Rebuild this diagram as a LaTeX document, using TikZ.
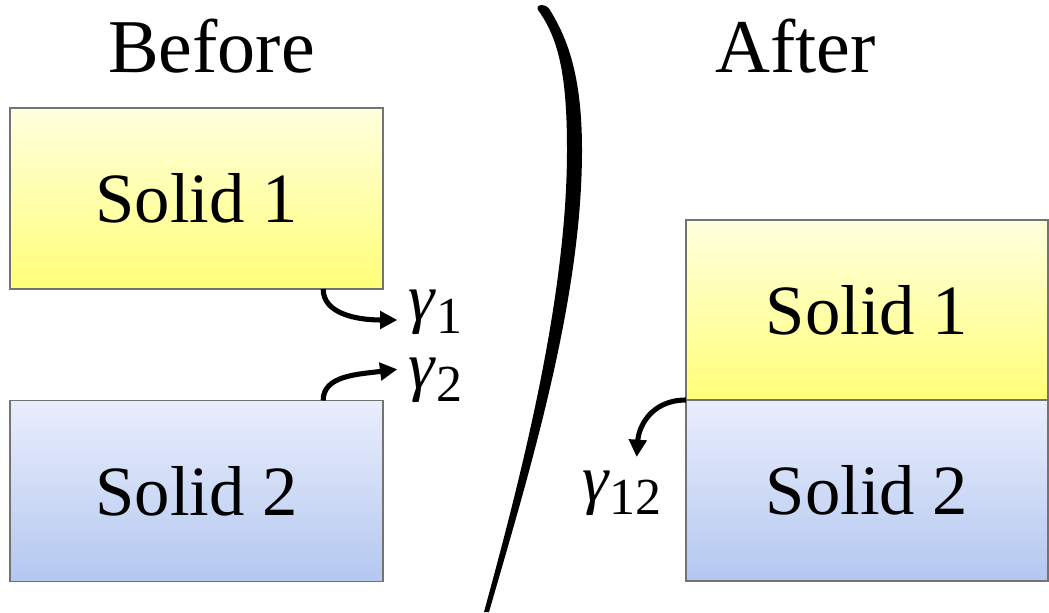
\documentclass[tikz,border=0pt]{standalone}
\usepackage{fontspec}
\setmainfont{Liberation Serif}
\usetikzlibrary{arrows.meta}
\definecolor{ylwtop}{RGB}{255,255,222}
\definecolor{ylwbot}{RGB}{255,255,120}
\definecolor{blutop}{RGB}{233,238,252}
\definecolor{blubot}{RGB}{180,199,240}
\newcommand{\gm}[1]{\textit{γ}\raisebox{-0.2em}{\fontsize{39}{42}\selectfont #1}}
\begin{document}
\begin{tikzpicture}[x=0.75pt,y=-0.75pt,
		solidbox/.style={draw=black!55,line width=0.9pt,inner sep=0pt,outer sep=0pt,font=\fontsize{53}{60}\selectfont},
		ylw/.style={top color=ylwtop,bottom color=ylwbot},
		blu/.style={top color=blutop,bottom color=blubot},
		gam/.style={inner sep=0pt,font=\fontsize{50}{56}\selectfont},
		gamarrow/.style={-{Triangle[length=13pt,width=13pt]},line width=3.8pt}]
		\useasboundingbox (0,0) rectangle (1049,613);
		% titles
		\node[font=\fontsize{57}{62}\selectfont] (before) at (211.5,46) {Before};
		\node[font=\fontsize{57}{62}\selectfont] (after) at (795.5,46) {After};
		% before
		\node[solidbox,ylw,minimum width=279.75pt,minimum height=135.75pt] (b1) at (196.5,198.5) {Solid 1};
		\node[solidbox,blu,minimum width=279.75pt,minimum height=135.75pt] (b2) at (196.5,491) {Solid 2};
		\node[gam,anchor=west] (g1) at (408,312) {\gm{1}};
		\node[gam,anchor=west] (g2) at (408,380) {\gm{2}};
		\draw[gamarrow] ([xshift=95pt]b1.south) .. controls +(0,25) and +(-40,0) .. ([xshift=-8pt,yshift=-6pt]g1.west);
		\draw[gamarrow] ([xshift=95pt]b2.north) .. controls +(0,-25) and +(-40,5) .. ([xshift=-8pt,yshift=8pt]g2.west);
		% divider
		\fill (538,10) .. controls (560,40) and (567,80) .. (567,150)
			.. controls (567,300) and (520,480) .. (484,612)
			-- (489,612) .. controls (530,470) and (582,300) .. (582,150)
			.. controls (582,70) and (565,35) .. (550,10)
			.. controls (546,3) and (535,4) .. (538,10) -- cycle;
		% after
		\node[solidbox,ylw,minimum width=271.5pt,minimum height=135pt] (a1) at (867,310) {Solid 1};
		\node[solidbox,blu,minimum width=271.5pt,minimum height=135.75pt] (a2) at (867,490.5) {Solid 2};
		\node[gam] (g12) at (622,493) {\gm{12}};
		\draw[gamarrow] (a2.north west) .. controls +(-35,0) and +(2,-30) .. ([xshift=11pt,yshift=10pt]g12.north);
	\end{tikzpicture}
\end{document}
